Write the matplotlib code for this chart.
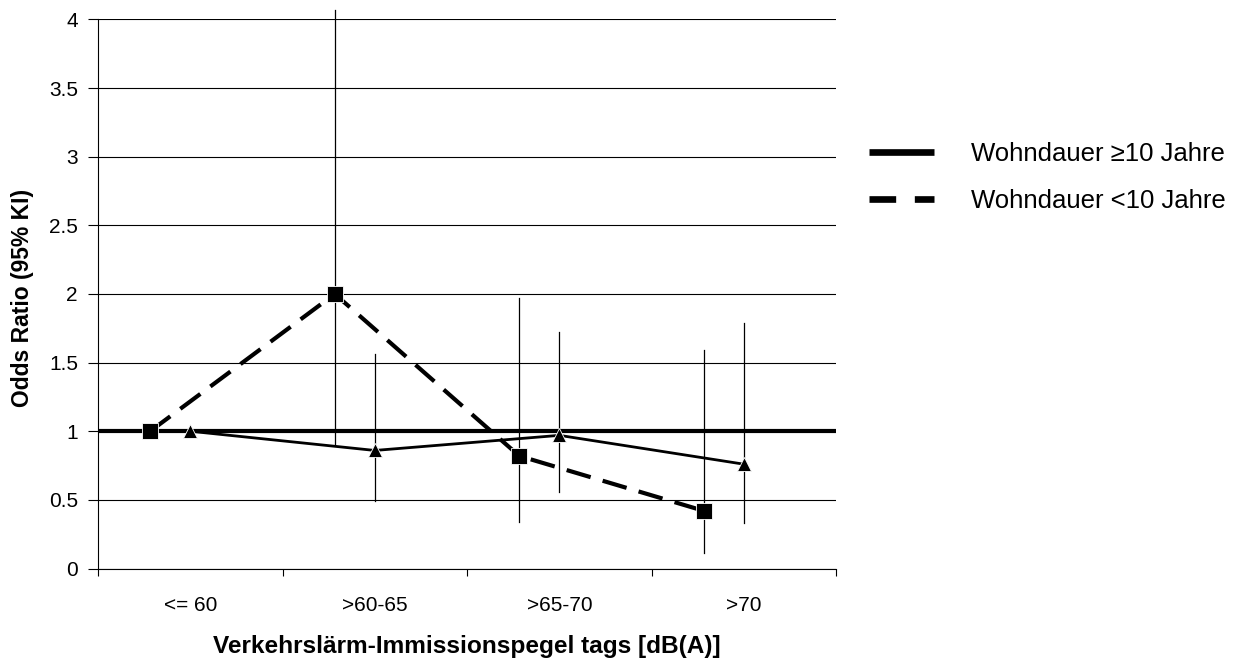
import matplotlib
matplotlib.use('Agg')
import matplotlib.pyplot as plt
from matplotlib.lines import Line2D

plt.rcParams['font.family'] = ['Liberation Sans', 'DejaVu Sans']

# Categories (noise level classes)
categories = ['<= 60', '>60-65', '>65-70', '>70']

# Wohndauer >= 10 Jahre (triangles, solid line)
or_long = [1.0, 0.86, 0.97, 0.76]
lo_long = [1.0, 0.49, 0.56, 0.33]
hi_long = [1.0, 1.56, 1.72, 1.79]

# Wohndauer < 10 Jahre (squares, dashed line)
or_short = [1.0, 2.0, 0.82, 0.42]
lo_short = [1.0, 0.90, 0.34, 0.11]
hi_short = [1.0, 4.07, 1.97, 1.59]

legend_labels = ['Wohndauer \u226510 Jahre', 'Wohndauer <10 Jahre']

fig = plt.figure(figsize=(12.48, 6.58), dpi=100)
ax = fig.add_axes([0.0785, 0.136, 0.5915, 0.8345])

x_center = [i + 0.5 for i in range(len(categories))]
x_short = [x - 0.217 for x in x_center]

# reference line at OR = 1
ax.axhline(1.0, color='black', lw=3.0, zorder=3)

# confidence intervals (no caps, not clipped like in the original)
for x, lo, hi in zip(x_center, lo_long, hi_long):
    if hi != lo:
        ax.plot([x, x], [lo, hi], color='black', lw=0.9, zorder=2, clip_on=False)
for x, lo, hi in zip(x_short, lo_short, hi_short):
    if hi != lo:
        ax.plot([x, x], [lo, hi], color='black', lw=0.9, zorder=2, clip_on=False)

ax.plot(x_center, or_long, color='black', lw=2.0, marker='^', markersize=10,
        markerfacecolor='black', markeredgecolor='white', markeredgewidth=0.6, zorder=4)
ax.plot(x_short, or_short, color='black', lw=3.0, dashes=(6, 3), marker='s', markersize=11.5,
        markerfacecolor='black', markeredgecolor='white', markeredgewidth=0.6, zorder=5)

ax.set_xlim(0, len(categories))
ax.set_ylim(0, 4)
ax.set_yticks([0, 0.5, 1, 1.5, 2, 2.5, 3, 3.5, 4])
ax.set_yticklabels(['0', '0.5', '1', '1.5', '2', '2.5', '3', '3.5', '4'])
ax.set_xticks(range(len(categories) + 1))
ax.set_xticklabels([])
ax.set_xticks(x_center, minor=True)
ax.set_xticklabels(categories, minor=True)
ax.tick_params(axis='x', which='minor', length=0, pad=20, labelsize=15)
ax.tick_params(axis='x', which='major', length=5, direction='out', width=0.8)
ax.tick_params(axis='y', length=7.2, direction='out', width=0.8, labelsize=15, pad=7.2)

ax.grid(axis='y', color='black', lw=0.8)
ax.set_axisbelow(True)
for s in ['top', 'right']:
    ax.spines[s].set_visible(False)
ax.spines['left'].set_linewidth(0.8)
ax.spines['bottom'].set_linewidth(0.8)

ax.set_xlabel('Verkehrslärm-Immissionspegel tags [dB(A)]', fontsize=17.6, fontweight='bold')
ax.set_ylabel('Odds Ratio (95% KI)', fontsize=16.5, fontweight='bold')
ax.xaxis.set_label_coords(0.5, -0.121)
ax.yaxis.set_label_coords(-0.087, 0.492)

# legend drawn outside the plot on the right
handles = [Line2D([], [], color='black', lw=4.8, solid_capstyle='butt'),
           Line2D([], [], color='black', lw=4.8, dashes=(4, 2.8), dash_capstyle='butt')]
fig.legend(handles, legend_labels, loc='upper left', bbox_to_anchor=(0.688, 0.800),
           frameon=False, fontsize=18.5, handlelength=2.55, handletextpad=1.42,
           labelspacing=0.9, borderaxespad=0)

fig.savefig('out.png', dpi=100)
